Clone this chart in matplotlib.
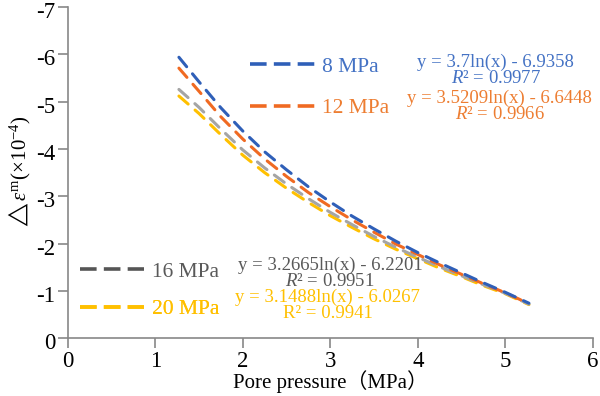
import matplotlib
matplotlib.use("Agg")
import matplotlib.pyplot as plt
import matplotlib.transforms as mtransforms
from matplotlib.lines import Line2D

# values
pressure = [1.27, 1.5, 1.75, 2.0, 2.25, 2.5, 2.75, 3.0, 3.25, 3.5, 3.75, 4.0, 4.25, 4.5, 4.75, 5.0, 5.27]
strain_8 = [-5.94, -5.42, -4.87, -4.38, -3.94, -3.56, -3.20, -2.88, -2.58, -2.31, -2.05, -1.81,
            -1.59, -1.38, -1.17, -0.97, -0.74]
strain_12 = [-5.71, -5.22, -4.68, -4.21, -3.79, -3.42, -3.08, -2.78, -2.50, -2.24, -1.99, -1.77,
             -1.55, -1.35, -1.15, -0.96, -0.73]
strain_16 = [-5.26, -4.88, -4.42, -3.98, -3.60, -3.26, -2.95, -2.66, -2.40, -2.15, -1.92, -1.71,
             -1.51, -1.32, -1.13, -0.95, -0.72]
strain_20 = [-5.12, -4.75, -4.30, -3.87, -3.50, -3.17, -2.87, -2.59, -2.34, -2.10, -1.88, -1.68,
             -1.48, -1.30, -1.11, -0.94, -0.71]

labels = ["8 MPa", "12 MPa", "16 MPa", "20 MPa"]
equations = ["y = 3.7ln(x) - 6.9358", "y = 3.5209ln(x) - 6.6448",
             "y = 3.2665ln(x) - 6.2201", "y = 3.1488ln(x) - 6.0267"]
r2_text = [r"$R$² = 0.9977", r"$R$² = 0.9966", r"$R$² = 0.9951", "R² = 0.9941"]

line_colors = ["#2F5FB8", "#F06A22", "#A5A5A5", "#FFC000"]
key_colors = ["#2F5FB8", "#F06A22", "#555555", "#FFC000"]
text_colors = ["#4472C4", "#ED7D31", "#595959", "#FFC000"]

serif = ["Liberation Serif", "DejaVu Serif"]
plt.rcParams["axes.unicode_minus"] = False
plt.rcParams["mathtext.fontset"] = "custom"
plt.rcParams["mathtext.it"] = "Liberation Serif:italic"
plt.rcParams["mathtext.rm"] = "Liberation Serif"

fig = plt.figure(figsize=(6.0, 3.96), dpi=100)
ax = fig.add_axes([0.113, 0.146, 0.875, 0.836])

dash = (0, (4, 3))
for ys, c in zip([strain_20, strain_16, strain_12, strain_8], line_colors[::-1]):
    ax.plot(pressure, ys, color=c, lw=2.2, linestyle=dash, dash_capstyle="round")

ax.set_xlim(0, 6)
ax.set_ylim(0, -7)
ax.set_xticks(range(0, 7))
ax.set_yticks(range(0, -8, -1))
for s in ["top", "right"]:
    ax.spines[s].set_visible(False)
for s in ["left", "bottom"]:
    ax.spines[s].set_color("#888888")
    ax.spines[s].set_linewidth(1.2)
ax.tick_params(colors="#888888", labelcolor="black", length=7, width=1.2)
ax.tick_params(axis="x", pad=2)
ax.tick_params(axis="y", pad=2)
shift = mtransforms.ScaledTranslation(0, -3 / 100, fig.dpi_scale_trans)
for lab in ax.get_xticklabels() + ax.get_yticklabels():
    lab.set_family(serif)
    lab.set_fontsize(16.5)
for lab in ax.get_yticklabels():
    lab.set_transform(lab.get_transform() + shift)

ax.set_xlabel("Pore pressure（MPa）", fontsize=15,
              family=["Liberation Serif", "Noto Sans CJK SC"], labelpad=-1)
ax.set_ylabel(r"$\triangle\varepsilon^{\rm m}$(×10$^{-4}$)", fontsize=15,
              family=serif, labelpad=2)

# legend keys and fit equations
key_pos = [(0.347, 0.82), (0.347, 0.695), (0.023, 0.2), (0.023, 0.087)]
eq_pos = [(0.815, 0.81), (0.823, 0.70), (0.50, 0.195), (0.495, 0.10)]
for i in range(4):
    leg = ax.legend([Line2D([], [], color=key_colors[i], lw=2.6, linestyle=(0, (4.6, 2.0)))],
                    [labels[i]], loc="center left", bbox_to_anchor=key_pos[i],
                    frameon=False, handlelength=3.0, handletextpad=0.33,
                    borderaxespad=0, borderpad=0,
                    prop={"family": serif, "size": 15.5})
    leg.get_texts()[0].set_color(text_colors[i])
    ax.add_artist(leg)
    ex, ey = eq_pos[i]
    ax.text(ex, ey, equations[i] + "\n" + r2_text[i], transform=ax.transAxes,
            ha="center", va="center", multialignment="center", linespacing=0.95,
            fontsize=13.5, color=text_colors[i], family=serif)

fig.savefig("out.png", dpi=100)
